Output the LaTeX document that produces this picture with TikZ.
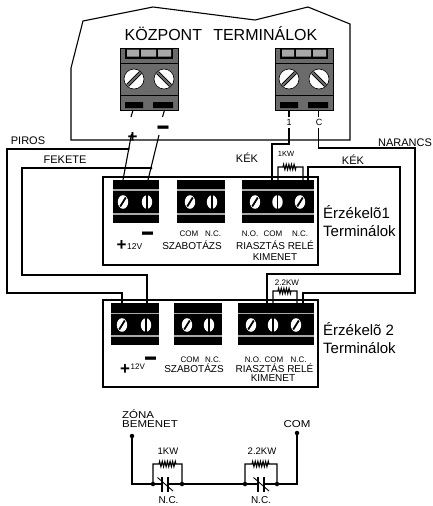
\documentclass[tikz,border=0pt]{standalone}
\usepackage{fontspec}
\setmainfont{Liberation Sans}
\usetikzlibrary{decorations.pathmorphing}
\definecolor{tgray}{HTML}{6B6B6B}
\definecolor{lgray}{HTML}{A8A8A8}
\newcommand\hs[1]{\scalebox{1.15}[1]{#1}}
\newcommand\thickdash{\smash{\scalebox{1}[3]{—}}}
\newcommand\ctermblk[1]{%
 \begin{scope}[shift={(#1,48)}]
  \fill[tgray,draw=black,line width=0.6pt] (0,0) rectangle (58,62);
  \fill[black] (5,0) rectangle (53,11);
  \fill[lgray] (7,1.5) rectangle (19,8.5) (21,1.5) rectangle (36,8.5) (38,1.5) rectangle (51,8.5);
  \draw[line width=0.7pt] (0,15) -- (58,15) (0,47) -- (58,47);
  \draw[line width=0.6pt,fill=white] (14,31) circle (10pt) (44,31) circle (10pt);
  \draw[line width=3.6pt] (7.5,37.5) -- (20.5,24.5);
  \draw[tgray,line width=1.8pt] (7.5,37.5) -- (20.5,24.5);
  \draw[line width=3.6pt] (37.5,24.5) -- (50.5,37.5);
  \draw[tgray,line width=1.8pt] (37.5,24.5) -- (50.5,37.5);
  \fill[black] (5,54) rectangle (23,60) (33,54) rectangle (53,60);
 \end{scope}}
\newcommand\stermblk[6]{%
 \fill[black] (#1,#3) rectangle (#2,#4);
 \draw[lgray,line width=1.6pt] (#1,#5) -- (#2,#5) (#1,#6) -- (#2,#6);}
\newcommand\screwslash[2]{%
 \fill[white] (#1,#2) ellipse (5.2pt and 6.8pt);
 \draw[line width=1.8pt] ({#1-2.8},{#2+4.5}) -- ({#1+2.8},{#2-4.5});}
\newcommand\screwbar[2]{%
 \fill[white] (#1,#2) ellipse (5.2pt and 6.8pt);
 \draw[line width=1.8pt] (#1,{#2-6.8}) -- (#1,{#2+6.8});}
\tikzset{
 wire/.style={line width=1.1pt},
 outline/.style={line width=1.1pt},
 zig/.style={decoration={zigzag,segment length=2.6pt,amplitude=2.6pt}},
 dot/.style={circle,fill=black,inner sep=0pt,minimum size=4.5pt},
 wdot/.style={circle,fill=black,inner sep=0pt,minimum size=3pt},
 title/.style={inner sep=0pt,anchor=base,font=\fontsize{16}{19}\selectfont},
 sensor/.style={inner sep=0pt,anchor=base west,font=\fontsize{15}{18}\selectfont},
 wlbl/.style={inner sep=0pt,anchor=base,font=\fontsize{11}{13}\selectfont},
 tiny/.style={inner sep=0pt,anchor=base,font=\fontsize{8}{10}\selectfont},
 mlbl/.style={inner sep=0pt,anchor=base,font=\fontsize{10}{12}\selectfont},
 rlbl/.style={inner sep=0pt,anchor=base,font=\fontsize{7.5}{9}\selectfont},
 plus/.style={inner sep=0pt,font=\fontsize{17}{19}\selectfont\bfseries},
 minus/.style={inner sep=0pt,anchor=base,font=\fontsize{11}{13}\selectfont\bfseries},
 slbl/.style={inner sep=0pt,anchor=base,font=\fontsize{10}{12}\selectfont},
}
\begin{document}
\begin{tikzpicture}[x=1pt,y=-1pt]
\useasboundingbox (0,0) rectangle (432,506);
% ---------- central panel ----------
\draw[outline] (83,21) -- (153,7) -- (255,20) -- (308,7) -- (350,24) -- (350,140) -- (71,140) -- (71,68) -- cycle;
\node[title] (ktitle) at (221,40) {KÖZPONT\hspace{0.7em}TERMINÁLOK};
\ctermblk{120}
\ctermblk{275}
% stubs below central blocks
\coordinate (cPa) at (133,110); \coordinate (cPb) at (131,117);
\coordinate (cMa) at (164.5,110); \coordinate (cMb) at (162.5,117);
\draw[wire] (cPa) -- (cPb) (cMa) -- (cMb);
\coordinate (c1a) at (289,110); \coordinate (c1b) at (289,117);
\coordinate (cCa) at (318.5,110); \coordinate (cCb) at (318.5,117);
\draw[wire] (c1a) -- (c1b) (cCa) -- (cCb);
\node[tiny,font=\fontsize{9}{11}\selectfont] (lbl1) at (289,125.5) {1};
\node[tiny,font=\fontsize{9}{11}\selectfont] (lblC) at (319,125.5) {C};
\node[plus] (cplus) at (132.5,138) {+};
\node[minus] (cminus) at (163,136) {\thickdash};
% ---------- sensor 1 ----------
\draw[outline] (103,177) rectangle (318,265);
\stermblk{113}{159}{180}{223}{190}{214}
\stermblk{177}{225}{180}{223}{190}{214}
\stermblk{242}{314}{180}{223}{190}{214}
\screwslash{123}{202}\screwbar{147}{202}
\screwslash{190}{202}\screwbar{212}{202}
\screwslash{255}{202}\screwbar{277.5}{202}\screwslash{300}{202}
\node[minus] (m1) at (147.5,242) {\thickdash};
\node[plus] (p1) at (121.5,246) {+};
\node[tiny,anchor=base west,font=\fontsize{8.5}{10}\selectfont] (v1) at (127,249) {12V};
\node[tiny] (s1com) at (189,236) {COM};
\node[tiny] (s1nc) at (213,236) {N.C.};
\node[mlbl] (s1sab) at (192,249.5) {SZABOTÁZS};
\node[tiny] (s1no) at (250,236) {N.O.};
\node[tiny] (s1com2) at (273,236) {COM};
\node[tiny] (s1nc2) at (300,236) {N.C.};
\node[mlbl] (s1ria) at (275,249.5) {RIASZTÁS RELÉ};
\node[mlbl] (s1kim) at (275,260.5) {KIMENET};
\node[sensor] (s1t1) at (323,218) {Érzékelõ1};
\node[sensor] (s1t2) at (323,236) {Terminálok};
% ---------- sensor 2 ----------
\draw[outline] (103,300) rectangle (318,387);
\stermblk{111}{159}{303}{345}{313.5}{336}
\stermblk{174}{222}{303}{345}{313.5}{336}
\stermblk{238}{314}{303}{345}{313.5}{336}
\screwslash{122}{325}\screwbar{146}{325}
\screwslash{187}{325}\screwbar{209}{325}
\screwslash{251}{325}\screwbar{273}{325}\screwslash{296}{325}
\node[minus] (m2) at (150.5,367) {\thickdash};
\node[plus] (p2) at (125,370) {+};
\node[tiny,anchor=base west] (v2) at (130.5,369) {12V};
\node[tiny] (s2com) at (190,362) {COM};
\node[tiny] (s2nc) at (213,362) {N.C.};
\node[mlbl] (s2sab) at (194,372.5) {SZABOTÁZS};
\node[tiny] (s2no) at (253,362) {N.O.};
\node[tiny] (s2com2) at (274,362) {COM};
\node[tiny] (s2nc2) at (298.5,362) {N.C.};
\node[mlbl] (s2ria) at (274.5,372.5) {RIASZTÁS RELÉ};
\node[mlbl] (s2kim) at (273,381.5) {KIMENET};
\node[sensor] (s2t1) at (323,335) {Érzékelõ 2};
\node[sensor] (s2t2) at (323,353) {Terminálok};
% ---------- wires ----------
\coordinate (wPtop) at (131.5,134); \coordinate (s1P) at (123,180);
\coordinate (wMtop) at (159,135); \coordinate (s1M) at (148,180);
\draw[wire] (wPtop) -- (s1P);
\draw[wire] (wMtop) -- (s1M);
\node[wdot] (dotP) at (128.3,149) {};
\node[wdot] (dotF) at (151,168) {};
% PIROS
\coordinate (pA) at (7,149); \coordinate (pB) at (7,293); \coordinate (s2P) at (122,303);
\draw[wire] (dotP.center) -- (pA) -- (pB) -| (s2P);
\node[wlbl] (lpiros) at (28,144) {PIROS};
% FEKETE
\coordinate (fA) at (22,168); \coordinate (fB) at (22,275); \coordinate (s2M) at (147,303);
\draw[wire] (dotF.center) -- (fA) -- (fB) -| (s2M);
\node[wlbl] (lfekete) at (65,163) {FEKETE};
% wire 1 (KEK)
\coordinate (w1top) at (289,128); \coordinate (w1c) at (289,144); \coordinate (s1NO) at (272,180);
\draw[wire] (w1top) -- (w1c) -| (s1NO);
\node[wlbl] (lkek1) at (247,162) {KÉK};
% resistor 1K on sensor 1
\coordinate (r1a) at (278,180); \coordinate (r1b) at (303,180);
\draw[wire] (r1a) -- (278,167) -- (283,167) decorate[zig]{-- (296,167)} -- (303,167) -- (r1b);
\node[rlbl] (l1kw) at (286,156.5) {1KW};
% KEK 2
\coordinate (k2a) at (308,180); \coordinate (k2b) at (308,167); \coordinate (k2c) at (400,167);
\coordinate (k2d) at (400,274); \coordinate (s2NO) at (267,303);
\draw[wire] (k2a) -- (k2b) -- (k2c) -- (k2d) -| (s2NO);
\node[wlbl] (lkek2) at (353,164) {KÉK};
% NARANCS
\coordinate (ntop) at (318.5,128); \coordinate (nA) at (318.5,148); \coordinate (nB) at (415,148);
\coordinate (nC) at (415,293); \coordinate (s2NC) at (303,303);
\draw[wire] (ntop) -- (nA) -- (nB) -- (nC) -| (s2NC);
\node[wlbl] (lnar) at (405,146) {NARANCS};
% resistor 2.2K on sensor 2
\coordinate (r2a) at (273,303); \coordinate (r2b) at (297,303);
\draw[wire] (r2a) -- (273,291) -- (278,291) decorate[zig]{-- (291,291)} -- (297,291) -- (r2b);
\node[rlbl,font=\fontsize{8}{10}\selectfont] (l22kw) at (287,285) {2.2KW};
% ---------- bottom schematic ----------
\node[slbl,anchor=base west] (zona) at (122,418.3) {\hs{ZÓNA}};
\node[slbl,anchor=base west] (bem) at (122,427.3) {\hs{BEMENET}};
\node[slbl] (bcom) at (297,427) {\hs{COM}};
\node[dot] (zin) at (132,436) {};
\node[dot] (cin) at (297,433) {};
\coordinate (zb) at (132,484);
\coordinate (e1) at (153,484); \coordinate (e2) at (182,484);
\coordinate (e3) at (245,484); \coordinate (e4) at (277,484);
\coordinate (cb) at (297,484);
\coordinate (sw1a) at (162,484); \coordinate (sw1b) at (168,484);
\coordinate (sw2a) at (258,484); \coordinate (sw2b) at (264,484);
\draw[wire] (zin.center) -- (zb) -- (sw1a);
\draw[wire] (sw1b) -- (sw2a);
\draw[wire] (sw2b) -- (cb) -- (cin.center);
\draw[wire] (162,477) -- (162,492) (168,477) -- (168,492);
\draw[wire] (258,477) -- (258,492) (264,477) -- (264,492);
\draw[line width=0.9pt] (157.5,477.5) -- (173,491);
\draw[line width=0.9pt] (253.5,477.5) -- (269,491);
\draw[wire] (e1) -- (153,464) -- (159,464) decorate[zig]{-- (177,464)} -- (182,464) -- (e2);
\draw[wire] (e3) -- (245,464) -- (252,464) decorate[zig]{-- (270,464)} -- (277,464) -- (e4);
\node[dot] (de1) at (e1) {};
\node[dot] (de2) at (e2) {};
\node[dot] (de3) at (e3) {};
\node[dot] (de4) at (e4) {};
\node[slbl,font=\fontsize{9.5}{11}\selectfont] (b1kw) at (168,454) {1KW};
\node[slbl,font=\fontsize{9.5}{11}\selectfont] (b22kw) at (262,454) {2.2KW};
\node[slbl] (bnc1) at (168.5,503) {N.C.};
\node[slbl] (bnc2) at (261,503) {N.C.};
\end{tikzpicture}
\end{document}
